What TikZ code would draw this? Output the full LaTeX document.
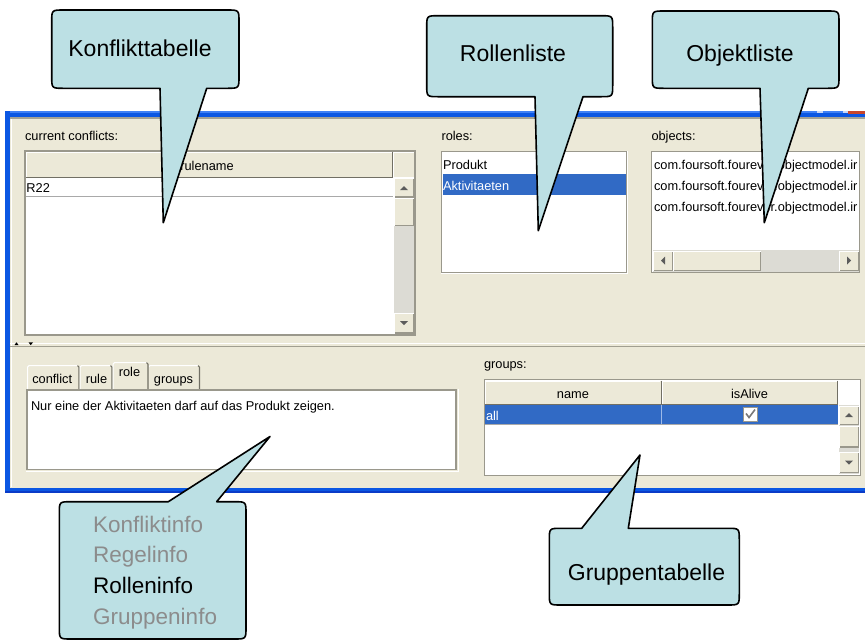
\documentclass[tikz,border=0pt]{standalone}
\usepackage{fontspec}
\setmainfont{Liberation Sans}

\definecolor{winbeige}{HTML}{ECE9D8}
\definecolor{framebl}{HTML}{0B57E3}
\definecolor{framelt}{HTML}{3E80F6}
\definecolor{framedk}{HTML}{0A3CC8}
\definecolor{capline}{HTML}{A4A295}
\definecolor{capbtn}{HTML}{C9D8F7}
\definecolor{capclose}{HTML}{C8452A}
\definecolor{splitline}{HTML}{A19F90}
\definecolor{selblue}{HTML}{316AC5}
\definecolor{selsep}{HTML}{9DB9E8}
\definecolor{bevel}{HTML}{9A988C}
\definecolor{bevdark}{HTML}{716F64}
\definecolor{sbtrack}{HTML}{DCDBD4}
\definecolor{glyph}{HTML}{5C5C5C}
\definecolor{checkgray}{HTML}{7A7A7A}
\definecolor{tipfill}{RGB}{188,224,228}
\definecolor{infogray}{HTML}{8C8C8C}
\definecolor{rowline}{HTML}{A9A9A9}

% scrollbar button: x1 y1 x2 y2
\newcommand\xpbutton[4]{%
  \fill[white] (#1,#2) rectangle (#3,#4);
  \fill[bevel] (#1+1,#2+1) rectangle (#3,#4);
  \fill[winbeige] (#1+1,#2+1) rectangle (#3-1.2,#4-1.2);}
\newcommand\glyphup[2]{\fill[glyph] (#1-4,#2+2) -- (#1+4,#2+2) -- (#1,#2-2) -- cycle;}
\newcommand\glyphdown[2]{\fill[glyph] (#1-4,#2-2) -- (#1+4,#2-2) -- (#1,#2+2) -- cycle;}
\newcommand\glyphleft[2]{\fill[glyph] (#1+2,#2-4) -- (#1+2,#2+4) -- (#1-2,#2) -- cycle;}
\newcommand\glyphright[2]{\fill[glyph] (#1-2,#2-4) -- (#1-2,#2+4) -- (#1+2,#2) -- cycle;}
% register tab: x1 y1 x2 y2
\newcommand\xptab[4]{%
  \fill[winbeige] (#1,#2) rectangle (#3,#4);
  \draw[white, line width=1.2pt] (#1+0.6,#4) -- (#1+0.6,#2+2) -- (#1+2,#2+0.6) -- (#3-2,#2+0.6);
  \draw[bevdark, line width=1.2pt] (#3-2,#2+0.6) -- (#3-0.6,#2+2) -- (#3-0.6,#4);}
% speech bubbles: left top right bottom, pointer base a b, tip coordinate
\newcommand\bubbledown[7]{%
  \filldraw[bubble] (#1+12,#2) -- (#3-12,#2) .. controls (#3,#2) .. (#3,#2+12)
    -- (#3,#4-12) .. controls (#3,#4) .. (#3-12,#4) -- (#6,#4) -- (#7) -- (#5,#4)
    -- (#1+12,#4) .. controls (#1,#4) .. (#1,#4-12) -- (#1,#2+12)
    .. controls (#1,#2) .. (#1+12,#2) -- cycle;}
\newcommand\bubbleup[7]{%
  \filldraw[bubble] (#1+12,#2) -- (#5,#2) -- (#7) -- (#6,#2) -- (#3-12,#2)
    .. controls (#3,#2) .. (#3,#2+12)
    -- (#3,#4-12) .. controls (#3,#4) .. (#3-12,#4)
    -- (#1+12,#4) .. controls (#1,#4) .. (#1,#4-12) -- (#1,#2+12)
    .. controls (#1,#2) .. (#1+12,#2) -- cycle;}

\begin{document}
\begin{tikzpicture}[x=1pt,y=-1pt,
  ui/.style={font=\fontsize{12.8}{15}\selectfont, inner sep=0pt, outer sep=0pt},
  uil/.style={ui, anchor=base west},
  uic/.style={ui, anchor=base},
  bubble/.style={fill=tipfill, draw=black, line width=1.6pt, line join=round},
  bubbletext/.style={font=\fontsize{23}{27}\selectfont, inner sep=0pt, anchor=base},
  infotext/.style={font=\fontsize{22.5}{26}\selectfont, inner sep=0pt, anchor=base west, text=infogray},
]
\useasboundingbox (0,0) rectangle (865,641);
\fill[white] (0,0) rectangle (865,641);

% ---------- window body and frame ----------
\fill[winbeige] (5,111) rectangle (865,493);
\fill[framebl] (5,111) rectangle (865,117);
\fill[framelt] (9,111) rectangle (865,112.5);
\fill[capline] (9.5,117) rectangle (865,118.5);
\fill[framebl] (5,111) rectangle (9.5,493);
\fill[framebl] (5,488) rectangle (865,493);
\fill[framedk] (5,491) rectangle (865,493);
% lower edges of the caption buttons
\fill[capbtn] (817,110.5) rectangle (822.5,113);
\fill[capbtn] (842.5,110.5) rectangle (848,113);
\fill[capclose] (848,111) rectangle (865,114);
\draw[white, line width=0.8pt] (11,119) -- (11,487);

% splitter between the two panels
\draw[white, line width=0.8pt] (10,343.5) -- (865,343.5);
\draw[splitline, line width=1.2pt] (10,346.8) -- (865,346.8);
\fill[black] (14.5,345) -- (18.5,345) -- (16.5,342.3) -- cycle;
\fill[black] (28.5,342.3) -- (33,342.3) -- (30.75,345.2) -- cycle;

% ---------- conflict table ----------
\node[uil] (lblconf) at (25,140) {current conflicts:};
\fill[white] (25,151) rectangle (415,335);
\fill[winbeige] (26,152) rectangle (415,177);
\draw[white] (26.5,177) -- (26.5,152.5) -- (392,152.5);
\draw[bevdark] (392.5,152) -- (392.5,177.5) -- (26,177.5);
\draw[white] (393.5,177) -- (393.5,152.5) -- (414,152.5);
\draw[rowline] (26,196.5) -- (393,196.5);
\fill[sbtrack] (393.5,178) rectangle (414,333.5);
\xpbutton{394}{178}{414}{197.5}
\glyphup{404}{188}
\xpbutton{394}{198}{414}{226}
\xpbutton{394}{313}{414}{333.5}
\glyphdown{404}{323}
\draw[bevel, line width=1.4pt] (25,151) rectangle (415,335);
\node[uic] (colrule) at (207,170) {rulename};
\node[uil] (rowr) at (26.5,192.5) {R22};

% ---------- role list ----------
\node[uil] (lblroles) at (441.5,140.5) {roles:};
\fill[white] (441,151) rectangle (627,273);
\fill[selblue] (442.5,174) rectangle (625.5,195);
\draw[bevel, line width=1.5pt] (441.5,151.5) rectangle (626.5,272.5);
\draw[white] (441,273.5) -- (627.5,273.5) -- (627.5,151);
\node[uil] (roleA) at (443,169) {Produkt};
\node[uil, text=white] (roleB) at (443,190) {Aktivitaeten};

% ---------- object list ----------
\node[uil] (lblobj) at (651.5,140.5) {objects:};
\fill[white] (651,151) rectangle (860,273);
\begin{scope}
  \clip (652.5,152.5) rectangle (858.5,250);
  \node[uil] (objA) at (654,169) {com.foursoft.fourever.objectmodel.ir};
  \node[uil] (objB) at (654,190) {com.foursoft.fourever.objectmodel.ir};
  \node[uil] (objC) at (654,211) {com.foursoft.fourever.objectmodel.ir};
\end{scope}
\fill[sbtrack] (652.5,250) rectangle (858.5,271.5);
\xpbutton{653}{250.5}{673}{271}
\glyphleft{663}{260.5}
\xpbutton{673}{250.5}{761}{271}
\xpbutton{839}{250.5}{859}{271}
\glyphright{849}{260.5}
\draw[bevel, line width=1.5pt] (651.5,151.5) rectangle (859.5,272.5);

% ---------- tabbed info area ----------
\xptab{27}{365}{79.5}{389}
\xptab{79.5}{365}{112.5}{389}
\xptab{148}{365}{200}{389}
\xptab{112.5}{362}{148.5}{389.5}
\node[uic] (tabconf) at (52.2,383) {conflict};
\node[uic] (tabrule) at (96.5,383) {rule};
\node[uic] (tabrole) at (129.5,376.5) {role};
\node[uic] (tabgrp) at (173.5,383) {groups};
\fill[white] (26,389) rectangle (457,470);
\draw[bevel, line width=1.6pt] (26.8,389.8) rectangle (456.2,469.5);
\draw[white] (26,471) -- (458,471) -- (458,389);
\node[uil] (roletext) at (31,410) {Nur eine der Aktivitaeten darf auf das Produkt zeigen.};

% ---------- group table ----------
\node[uil] (lblgrp) at (484,368.3) {groups:};
\fill[white] (484,379) rectangle (861,476);
\fill[winbeige] (485,380.5) rectangle (838,404);
\draw[white] (485.5,404) -- (485.5,381) -- (660,381);
\draw[white] (662,404) -- (662,381) -- (837,381);
\draw[bevdark] (660.8,380.5) -- (660.8,404) -- (485,404);
\draw[bevdark] (837.5,380.5) -- (837.5,404) -- (661,404);
\fill[selblue] (485,405) rectangle (838,424);
\draw[selsep] (661,405) -- (661,424);
\draw[rowline] (485,424.5) -- (838,424.5);
\fill[white] (743,407) rectangle (757.5,421.5);
\draw[bevel] (743.5,407.5) rectangle (757,421);
\draw[checkgray, line width=1.6pt] (746,413.5) -- (749,417.5) -- (755,409.5);
\fill[sbtrack] (839,405) rectangle (859,474);
\xpbutton{839}{405.5}{859}{425}
\glyphup{849}{415}
\xpbutton{839}{426}{859}{447.5}
\xpbutton{839}{452}{859}{473}
\glyphdown{849}{462.5}
\draw[bevel, line width=1.5pt] (484.5,379.5) rectangle (860.5,475.5);
\node[uic] (colname) at (573,398) {name};
\node[uic] (colalive) at (749.5,398) {isAlive};
\node[uil, text=white] (grpall) at (486,420.5) {all};

% ---------- speech bubbles ----------
\coordinate (tipconf) at (163.3,222.7);
\coordinate (tiproles) at (538.3,230.7);
\coordinate (tipobj) at (764.3,222.7);
\coordinate (tipinfo) at (270,436.5);
\coordinate (tipgrp) at (640,455);

\bubbledown{51.7}{10}{239}{88.3}{160}{206.7}{tipconf}
\bubbledown{426.7}{15.7}{612.7}{96.7}{535}{583}{tiproles}
\bubbledown{652.3}{11}{839}{88.3}{760}{808.3}{tipobj}
\bubbleup{59.3}{501.7}{246}{639}{168.3}{216.7}{tipinfo}
\bubbleup{549.3}{528.3}{739.3}{605}{581.7}{628.3}{tipgrp}

\node[bubbletext] (txtconf) at (140,56) {Konflikttabelle};
\node[bubbletext] (txtroles) at (513,61) {Rollenliste};
\node[bubbletext] (txtobj) at (740,61) {Objektliste};
\node[bubbletext] (txtgrp) at (646.5,580) {Gruppentabelle};
\node[infotext] (infoA) at (93,532.7) {Konfliktinfo};
\node[infotext] (infoB) at (93,562.7) {Regelinfo};
\node[infotext, text=black] (infoC) at (93,593.3) {Rolleninfo};
\node[infotext] (infoD) at (93,624) {Gruppeninfo};
\end{tikzpicture}
\end{document}
